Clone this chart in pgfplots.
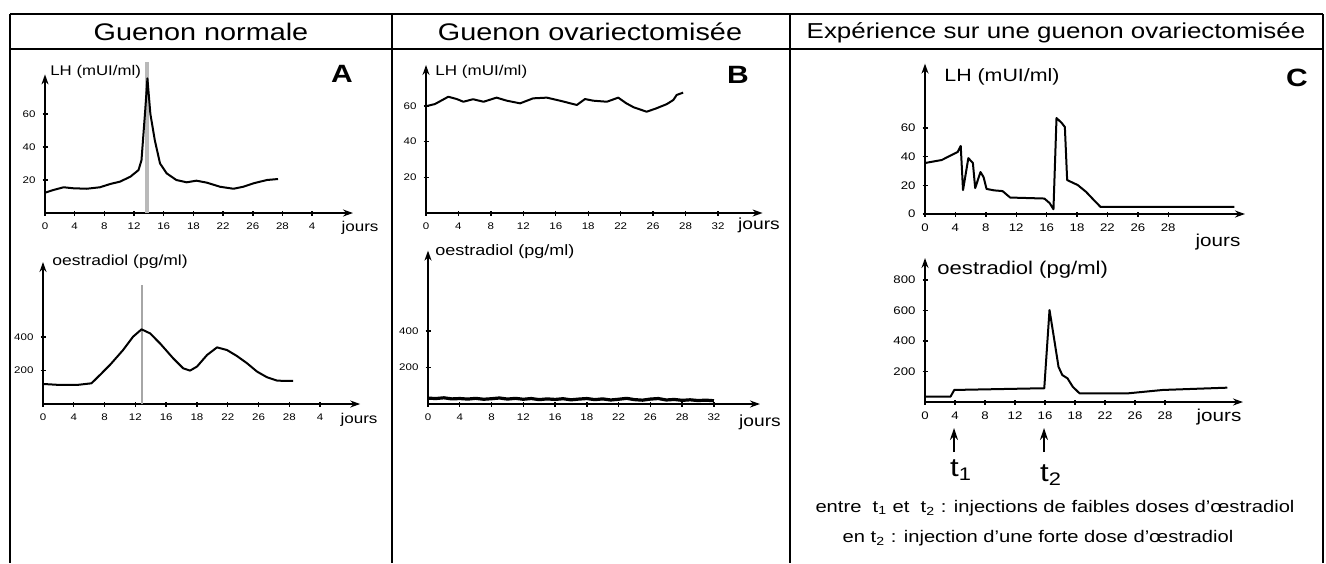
\documentclass[border=0pt]{standalone}
\usepackage{fontspec}
\setmainfont{Liberation Sans}[FakeStretch=1.2]
\usepackage{pgfplots}
\pgfplotsset{compat=1.18}
\usetikzlibrary{arrows.meta}

\newcommand{\fs}[1]{\fontsize{#1}{#1}\selectfont}

\pgfplotsset{
  panel/.style={
    scale only axis, clip=false,
    axis lines=left,
    axis line style={line width=0.9pt, -{Stealth[length=5pt,width=3.5pt]}},
    xmin=0, ymin=0,
    tick align=center,
    major tick length=2.5pt,
    every tick/.style={black, line width=0.7pt},
    tick label style={font=\fs{4.8}},
    /pgf/number format/assume math mode=true,
    anchor=origin,
  },
  curve/.style={black, line width=1pt, line join=round, mark=none},
}

\begin{document}
\begin{tikzpicture}
\useasboundingbox (0,0) rectangle (663pt,-281.5pt);

% ---------- A : guenon normale ----------
\begin{axis}[panel, at={(22.5pt,-106.5pt)},
  width=154pt, height=69.3pt, xmax=41.5, ymax=84,
  xtick={0,4,...,36}, xticklabels={0,4,8,12,16,18,22,26,28,4},
  ytick={20,40,60}]
\addplot[gray!55, line width=2pt] coordinates {(13.8,0) (13.8,91.5)};
\addplot[curve] coordinates {
(0,12.3)(1.1,13.9)(2.5,15.6)(3.8,15.0)(5.6,14.7)(7.4,15.6)(8.8,17.6)(10.1,19.0)
(11.5,22)(12.6,26)(13.0,32)(13.5,62)(13.8,81.6)(14.2,60)(14.8,44)(15.5,30)
(16.4,24)(17.7,20)(19.1,18.6)(20.4,19.6)(21.8,18.4)(23.6,15.9)(25.4,14.7)
(26.7,15.9)(28.1,18)(29.9,20)(31.4,20.6)};
\end{axis}

\begin{axis}[panel, at={(21.5pt,-202pt)},
  width=158.6pt, height=71pt, xmax=41.2, ymax=850,
  xtick={0,4,...,36}, xticklabels={0,4,8,12,16,18,22,26,28,4},
  ytick={200,400}]
\addplot[gray!70, line width=1pt] coordinates {(12.9,0) (12.9,712)};
\addplot[curve] coordinates {
(0,120)(2.2,114)(4.4,114)(6.3,124)(7.4,174)(8.7,234)(10.4,323)(11.7,403)
(12.8,447)(13.9,423)(15.2,363)(16.9,274)(18.2,214)(19.1,200)(20.0,224)
(21.3,293)(22.6,339)(23.9,323)(25.2,287)(26.5,244)(27.8,194)(29.1,160)
(30.4,140)(31.6,138)(32.5,138)};
\end{axis}

% ---------- B : guenon ovariectomisee ----------
\begin{axis}[panel, at={(213pt,-106.5pt)},
  width=168.3pt, height=74pt, xmax=41.5, ymax=83,
  xtick={0,4,...,36}, xticklabels={0,4,8,12,16,18,22,26,28,32},
  ytick={20,40,60}]
\addplot[curve] coordinates {
(0.1,60)(1.1,61.1)(2.75,65.2)(3.8,63.9)(4.6,62.4)(5.8,63.8)(7.1,62.4)(8.7,64.7)
(9.95,63)(11.6,61.5)(13.2,64.3)(14.9,64.7)(16.5,63)(18.6,60.6)(19.6,63.9)
(20.6,63)(22.3,62.4)(23.7,64.7)(24.7,61.5)(25.6,59.3)(27.2,56.8)(28.4,58.7)
(29.7,61.1)(30.5,63.4)(30.9,66.2)(31.7,67.5)};
\end{axis}

\begin{axis}[panel, at={(214pt,-202pt)},
  width=166pt, height=76.7pt, xmax=41.8, ymax=840,
  xtick={0,4,...,36}, xticklabels={0,4,8,12,16,18,22,26,28,32},
  ytick={200,400}]
\addplot[curve, line width=1.6pt] coordinates {
(0,32)(1,30)(2,34)(3,28)(4,30)(5,27)(6,31)(7,26)(8,29)(9,33)(10,27)(11,31)
(12,26)(13,30)(14,24)(15,28)(16,25)(17,29)(18,23)(19,27)(20,30)(21,24)(22,28)
(23,22)(24,26)(25,31)(26,24)(27,21)(28,27)(29,30)(30,22)(31,25)(32,20)(33,23)
(34,19)(35,21)(36,18)};
\end{axis}

% ---------- C : experience ----------
\begin{axis}[panel, at={(462.5pt,-107pt)},
  width=160pt, height=75.2pt, xmax=42.1, ymax=105,
  tick label style={font=\fs{5.5}},
  xtick={0,4,...,32}, xticklabels={0,4,8,12,16,18,22,26,28},
  ytick={0,20,40,60}]
\addplot[curve] coordinates {
(0,35.6)(2.2,37.7)(4.3,43.3)(4.7,47.5)(5.0,16.7)(5.7,39)(6.3,35.6)(6.6,18.1)
(7.3,29.3)(7.7,25.8)(8.1,17.5)(9.1,16.5)(10.2,16)(11.2,11.5)(15.7,10.8)
(16.4,7.6)(16.9,3.3)(17.3,67)(18.0,63.5)(18.4,60.7)(18.7,23.7)(20.1,20.2)
(21.2,15.4)(22.2,9.8)(23.1,4.9)(24.2,4.9)(40.7,4.9)};
\end{axis}

\begin{axis}[panel, at={(462.5pt,-201pt)},
  width=159pt, height=72pt, xmax=42.4, ymax=944,
  tick label style={font=\fs{5.5}},
  xtick={0,4,...,32}, xticklabels={0,4,8,12,16,18,22,26,28},
  ytick={200,400,600,800}]
\addplot[curve] coordinates {
(0,35)(3.4,35)(3.9,79)(15.5,90)(15.9,90)(16.6,603)(17.1,450)(17.8,231)
(18.3,177)(19.0,155)(19.7,100)(20.6,57)(27.1,57)(31.7,79)(40.3,94)};
\end{axis}

% ---------- frame and texts (pixel units) ----------
\begin{scope}[x=0.5pt, y=-0.5pt]
\draw[line width=1pt] (10,14) -- (1323,14);
\draw[line width=1.3pt] (10,49) -- (1323,49);
\foreach \xx in {10,392,790,1323} \draw[line width=1pt] (\xx,14) -- (\xx,563);

\node[font=\fs{12}] at (201,32) {Guenon normale};
\node[font=\fs{12}] at (590,32) {Guenon ovariectomisée};
\node[font=\fs{10.8}] at (1056,33) {Expérience sur une guenon ovariectomisée};

\node[font=\fs{12.5}\bfseries] at (342,74) {A};
\node[font=\fs{12.5}\bfseries] at (738,75) {B};
\node[font=\fs{12.5}\bfseries] at (1297,78) {C};

\node[font=\fs{7}, anchor=west, inner sep=0] at (50,72) {LH (mUI/ml)};
\node[font=\fs{7.1}, anchor=west, inner sep=0] at (435,72) {LH (mUI/ml)};
\node[font=\fs{8.9}, anchor=west, inner sep=0] at (944,77) {LH (mUI/ml)};

\node[font=\fs{7.3}, anchor=west, inner sep=0] at (52,262) {oestradiol (pg/ml)};
\node[font=\fs{7.5}, anchor=west, inner sep=0] at (435,252) {oestradiol (pg/ml)};
\node[font=\fs{9.2}, anchor=west, inner sep=0] at (937,270) {oestradiol (pg/ml)};

\node[font=\fs{7.1}] at (360,228) {jours};
\node[font=\fs{7.1}] at (359,420) {jours};
\node[font=\fs{8}] at (759,225) {jours};
\node[font=\fs{8}] at (760,422) {jours};
\node[font=\fs{8.6}] at (1218,242) {jours};
\node[font=\fs{8.6}] at (1219,417) {jours};

\draw[line width=1pt, -{Stealth[length=6pt,width=4pt]}] (954,452) -- (954,428);
\draw[line width=1pt, -{Stealth[length=6pt,width=4pt]}] (1044,452) -- (1044,428);
\node[font=\fs{13}] at (961,470) {t\textsubscript{1}};
\node[font=\fs{13}] at (1051,475) {t\textsubscript{2}};

\node[font=\fs{8.4}] at (1055,508) {entre~ t\textsubscript{1} et~ t\textsubscript{2} : injections de faibles doses d'œstradiol};
\node[font=\fs{8.4}] at (1038,538) {en t\textsubscript{2} : injection d'une forte dose d'œstradiol};
\end{scope}
\end{tikzpicture}
\end{document}
